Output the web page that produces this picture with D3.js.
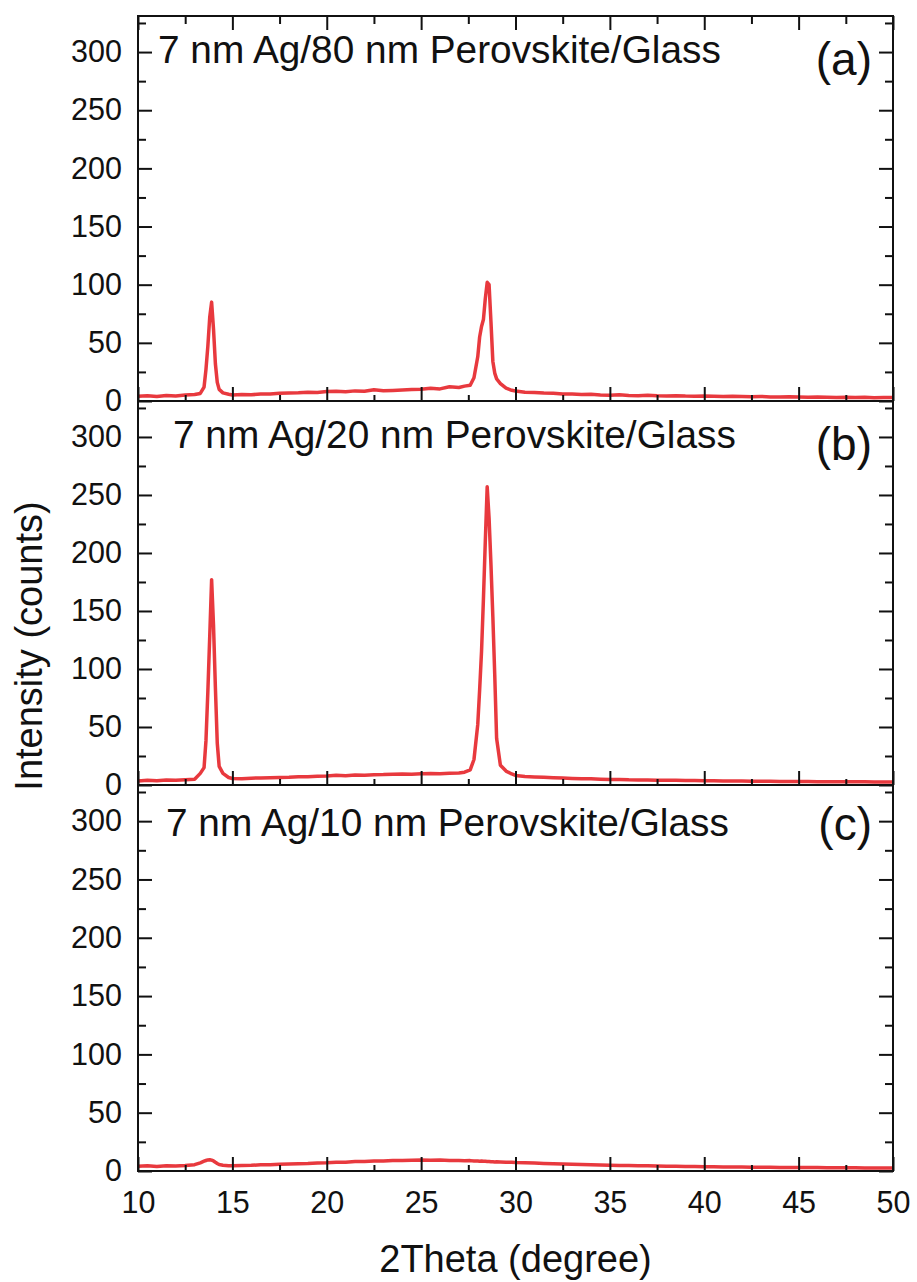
<!DOCTYPE html>
<html>
<head>
<meta charset="utf-8">
<script src="https://cdn.jsdelivr.net/npm/d3@7"></script>
<style>
  body { margin: 0; background: #fff; }
  svg { display: block; }
  text { font-family: "Liberation Sans", Arial, Helvetica, sans-serif; fill: #111; }
</style>
</head>
<body>
<svg id="chart" width="917" height="1282"></svg>
<script>
// 2theta sampling, denser around the two perovskite reflections
const twoTheta = [
  10, 10.5, 11, 11.5, 12, 12.5, 13,
  13.3, 13.5, 13.6, 13.7, 13.8, 13.9, 14.0, 14.1, 14.2, 14.3, 14.5, 14.8,
  15, 15.5, 16, 16.5, 17, 17.5, 18, 18.5, 19, 19.5, 20, 20.5, 21, 21.5, 22, 22.5, 23, 23.5, 24, 24.5, 25, 25.5, 26, 26.5, 27,
  27.3, 27.6, 27.8, 28.0, 28.1, 28.2, 28.3, 28.4, 28.5, 28.6, 28.7, 28.8, 28.9, 29.0, 29.2, 29.5, 29.8,
  30, 30.5, 31, 31.5, 32, 32.5, 33, 33.5, 34, 34.5, 35, 35.5, 36, 36.5, 37, 37.5, 38, 38.5, 39, 39.5,
  40, 40.5, 41, 41.5, 42, 42.5, 43, 43.5, 44, 44.5, 45, 45.5, 46, 46.5, 47, 47.5, 48, 48.5, 49, 49.5, 50
];

// (a) 7 nm Ag / 80 nm perovskite
const countsA = [
  4.0, 4.6, 3.9, 4.8, 4.4, 5.1, 5.6,
  6.5, 12, 27, 47, 72, 85, 62, 32, 16, 10, 7, 5.8,
  5.2, 5.6, 5.3, 6.1, 6.0, 6.6, 6.9, 7.0, 7.6, 7.3, 8.1, 8.3, 7.9, 8.7, 8.4, 9.6, 8.9, 9.1, 9.4, 9.8, 10.2, 11.0, 10.4, 12.2, 11.6,
  12.8, 13.6, 20, 38, 55, 64, 70, 88, 102, 100, 68, 34, 24, 19, 15, 11, 9.2,
  8.6, 7.6, 7.3, 6.8, 6.6, 6.1, 6.0, 5.5, 5.7, 5.2, 5.0, 5.3, 4.8, 4.6, 4.9, 4.5, 4.3, 4.6, 4.2, 4.0,
  4.3, 4.0, 3.8, 4.1, 3.8, 3.6, 3.9, 3.5, 3.4, 3.7, 3.4, 3.2, 3.5, 3.2, 3.0, 3.3, 3.0, 3.2, 2.9, 3.1, 3.0
];

// (b) 7 nm Ag / 20 nm perovskite
const countsB = [
  3.5, 4.1, 3.6, 4.3, 4.0, 4.5, 5.0,
  10, 15, 38, 80, 128, 177, 138, 84, 36, 16, 10, 6.5,
  5.6, 5.4, 5.9, 6.0, 6.3, 6.5, 6.7, 7.1, 7.2, 7.6, 7.8, 8.3, 8.0, 8.6, 8.5, 8.9, 9.0, 9.3, 9.4, 9.2, 9.6, 9.9, 9.6, 10.1, 10.3,
  11, 13, 22, 52, 82, 115, 160, 210, 257, 230, 190, 145, 95, 40, 17, 12, 9.5,
  8.2, 7.3, 7.0, 6.6, 6.3, 6.0, 5.7, 5.4, 5.3, 5.0, 4.8, 4.8, 4.5, 4.4, 4.3, 4.2, 4.0, 4.1, 3.8, 3.8,
  3.6, 3.7, 3.5, 3.4, 3.5, 3.3, 3.2, 3.3, 3.1, 3.0, 3.1, 3.0, 2.9, 2.9, 2.8, 2.8, 2.7, 2.7, 2.6, 2.6, 2.5
];

// (c) 7 nm Ag / 10 nm perovskite
const countsC = [
  4.0, 4.4, 3.9, 4.5, 4.2, 4.7, 5.4,
  7.0, 8.4, 9.0, 9.5, 9.7, 9.3, 8.6, 7.5, 6.5, 5.6, 5.0, 4.6,
  4.5, 4.8, 4.9, 5.3, 5.4, 5.8, 6.0, 6.3, 6.5, 6.9, 7.0, 7.5, 7.6, 8.1, 8.2, 8.6, 8.6, 9.0, 9.0, 9.3, 9.5, 9.3, 9.4, 9.0, 9.1,
  8.8, 8.9, 8.6, 8.6, 8.4, 8.5, 8.3, 8.3, 8.1, 8.2, 8.0, 8.0, 7.8, 7.9, 7.7, 7.5, 7.4,
  7.2, 7.0, 6.8, 6.5, 6.3, 6.0, 5.8, 5.6, 5.4, 5.2, 5.0, 4.8, 4.7, 4.5, 4.4, 4.2, 4.1, 4.0, 3.9, 3.8,
  3.7, 3.6, 3.5, 3.5, 3.4, 3.3, 3.2, 3.2, 3.1, 3.0, 3.0, 2.9, 2.9, 2.8, 2.8, 2.7, 2.7, 2.6, 2.6, 2.5, 2.5
];

const panelTitles = [
  '7 nm Ag/80 nm Perovskite/Glass',
  '7 nm Ag/20 nm Perovskite/Glass',
  '7 nm Ag/10 nm Perovskite/Glass'
];
const panelLabels = ['(a)', '(b)', '(c)'];

const xTicks = [10, 15, 20, 25, 30, 35, 40, 45, 50];
const xMinorTicks = [12.5, 17.5, 22.5, 27.5, 32.5, 37.5, 42.5, 47.5];
const yTicks = [0, 50, 100, 150, 200, 250, 300];
const yMinorTicks = [25, 75, 125, 175, 225, 275, 325];

const lineColor = '#e8393e';
const plotLeft = 138, plotRight = 893;
const panelEdges = [16, 401, 785, 1171];
const titleOffset = [[158, 47], [173, 47], [166, 51]];
const labelBaseline = [59, 59, 55];

const svg = d3.select('#chart');
const x = d3.scaleLinear().domain([10, 50]).range([plotLeft, plotRight]);

[countsA, countsB, countsC].forEach((counts, i) => drawPanel(i, counts));

function styleAxis(sel) {
  sel.select('.domain').remove();
  sel.selectAll('line').attr('stroke', '#111').attr('stroke-width', 2);
  sel.selectAll('text').style('font-size', '30.5px').attr('fill', '#111');
}

function drawPanel(i, counts) {
  const top = panelEdges[i], bottom = panelEdges[i + 1];
  const y = d3.scaleLinear().domain([0, 331]).range([bottom, top]);
  const g = svg.append('g');

  const line = d3.line()
    .x(d => x(d[0]))
    .y(d => y(d[1]));

  g.append('path')
    .datum(twoTheta.map((t, k) => [t, counts[k]]))
    .attr('d', line)
    .attr('fill', 'none')
    .attr('stroke', lineColor)
    .attr('stroke-width', 3.5)
    .attr('stroke-linejoin', 'round');

  // left axis, ticks inward
  g.append('g').attr('transform', `translate(${plotLeft},0)`)
    .call(d3.axisLeft(y).tickValues(yTicks).tickSize(-14).tickPadding(16).tickFormat(d3.format('d')))
    .call(styleAxis);
  g.append('g').attr('transform', `translate(${plotLeft},0)`)
    .call(d3.axisLeft(y).tickValues(yMinorTicks).tickSize(-8).tickFormat(''))
    .call(styleAxis);

  // right axis
  g.append('g').attr('transform', `translate(${plotRight},0)`)
    .call(d3.axisRight(y).tickValues(yTicks).tickSize(-14).tickFormat(''))
    .call(styleAxis);
  g.append('g').attr('transform', `translate(${plotRight},0)`)
    .call(d3.axisRight(y).tickValues(yMinorTicks).tickSize(-8).tickFormat(''))
    .call(styleAxis);

  // bottom axis, labels only on the last panel
  g.append('g').attr('transform', `translate(0,${bottom})`)
    .call(d3.axisBottom(x).tickValues(xTicks).tickSize(-14).tickPadding(20)
      .tickFormat(i === 2 ? d3.format('d') : ''))
    .call(styleAxis);
  g.append('g').attr('transform', `translate(0,${bottom})`)
    .call(d3.axisBottom(x).tickValues(xMinorTicks).tickSize(-6).tickFormat(''))
    .call(styleAxis);

  // top ticks only on the first panel
  if (i === 0) {
    g.append('g').attr('transform', `translate(0,${top})`)
      .call(d3.axisTop(x).tickValues(xTicks).tickSize(-14).tickFormat(''))
      .call(styleAxis);
    g.append('g').attr('transform', `translate(0,${top})`)
      .call(d3.axisTop(x).tickValues(xMinorTicks).tickSize(-8).tickFormat(''))
      .call(styleAxis);
  }

  g.append('rect')
    .attr('x', plotLeft).attr('y', top)
    .attr('width', plotRight - plotLeft).attr('height', bottom - top)
    .attr('fill', 'none')
    .attr('stroke', '#111')
    .attr('stroke-width', 2);

  g.append('text')
    .attr('x', titleOffset[i][0])
    .attr('y', top + titleOffset[i][1])
    .style('font-size', '38.8px')
    .text(panelTitles[i]);

  g.append('text')
    .attr('x', 872)
    .attr('y', top + labelBaseline[i])
    .attr('text-anchor', 'end')
    .style('font-size', '46px')
    .text(panelLabels[i]);
}

svg.append('text')
  .attr('transform', 'translate(42,646) rotate(-90)')
  .attr('text-anchor', 'middle')
  .style('font-size', '38px')
  .text('Intensity (counts)');

svg.append('text')
  .attr('x', (plotLeft + plotRight) / 2)
  .attr('y', 1272)
  .attr('text-anchor', 'middle')
  .style('font-size', '38px')
  .text('2Theta (degree)');
</script>
</body>
</html>
